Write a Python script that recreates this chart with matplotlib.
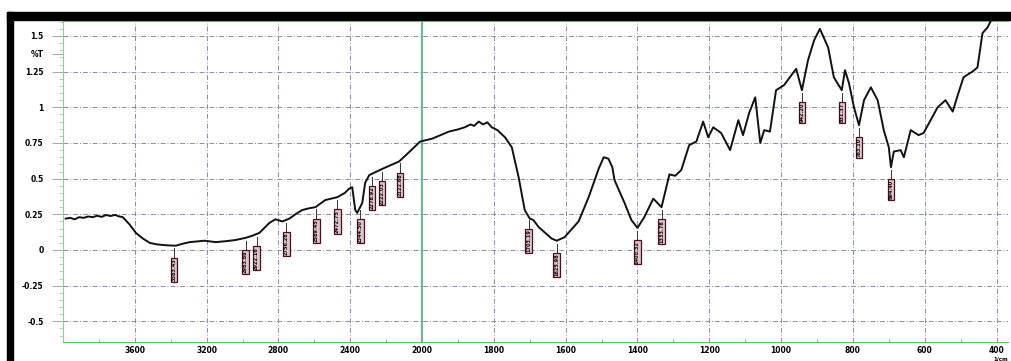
import numpy as np
import matplotlib
matplotlib.use("Agg")
import matplotlib.pyplot as plt
from matplotlib.patches import Rectangle

# FTIR spectrum, wavenumber (1/cm) vs %T
wn = [3985, 3960, 3935, 3910, 3885, 3860, 3835, 3810, 3785, 3760, 3735, 3710,
      3690, 3667, 3630, 3594, 3555, 3517, 3480, 3444, 3410, 3372, 3330, 3294,
      3250, 3211, 3150, 3090, 3039, 2983, 2945, 2906, 2850, 2817, 2778, 2739,
      2700, 2667, 2630, 2594, 2539, 2472, 2430, 2406, 2389, 2372, 2361, 2333,
      2317, 2294, 2210, 2128, 2060, 2011, 1972, 1925, 1900, 1881, 1865, 1855,
      1842, 1830, 1818, 1806, 1790, 1769, 1750, 1731, 1714, 1700, 1690, 1675,
      1639, 1625, 1603, 1564, 1536, 1508, 1494, 1481, 1470, 1464, 1436, 1417,
      1400, 1381, 1356, 1333, 1311, 1295, 1278, 1256, 1236, 1217, 1203, 1189,
      1167, 1142, 1119, 1106, 1089, 1072, 1058, 1047, 1031, 1014, 992, 958,
      942, 925, 908, 892, 869, 853, 831, 822, 811, 797, 783, 769, 750, 731,
      714, 700, 694, 686, 667, 658, 639, 617, 603, 564, 542, 522, 508, 492,
      480, 467, 453, 439, 425, 417]
trans = [0.220, 0.225, 0.215, 0.230, 0.225, 0.235, 0.230, 0.240, 0.232, 0.245,
         0.238, 0.246, 0.236, 0.230, 0.180, 0.120, 0.080, 0.050, 0.040, 0.035,
         0.032, 0.030, 0.045, 0.055, 0.060, 0.065, 0.055, 0.062, 0.070, 0.085,
         0.100, 0.120, 0.190, 0.215, 0.200, 0.220, 0.255, 0.280, 0.292, 0.300,
         0.350, 0.370, 0.400, 0.430, 0.440, 0.280, 0.260, 0.330, 0.470, 0.525,
         0.575, 0.620, 0.700, 0.760, 0.780, 0.830, 0.845, 0.860, 0.880, 0.870,
         0.900, 0.880, 0.895, 0.860, 0.840, 0.790, 0.720, 0.510, 0.280, 0.220,
         0.210, 0.160, 0.080, 0.065, 0.090, 0.200, 0.370, 0.570, 0.650, 0.640,
         0.580, 0.490, 0.330, 0.210, 0.155, 0.230, 0.360, 0.300, 0.530, 0.520,
         0.560, 0.735, 0.760, 0.900, 0.790, 0.860, 0.820, 0.700, 0.910, 0.805,
         0.960, 1.070, 0.750, 0.840, 0.830, 1.120, 1.155, 1.270, 1.120, 1.330,
         1.470, 1.550, 1.420, 1.210, 1.120, 1.260, 1.170, 1.000, 0.875, 1.050,
         1.140, 1.050, 0.840, 0.720, 0.580, 0.690, 0.700, 0.650, 0.840, 0.805,
         0.820, 1.000, 1.050, 0.970, 1.085, 1.210, 1.230, 1.250, 1.280, 1.520,
         1.560, 1.600]

# marked peaks
peak_wn = [3383, 2983, 2922, 2756, 2589, 2472, 2344, 2278, 2222, 2122,
           1703, 1625, 1400, 1333, 942, 831, 783, 694]
peak_lbl = ["3383.43", "2983.88", "2922.16", "2756.28", "2589.45", "2472.75",
            "2344.50", "2278.92", "2222.03", "2122.68", "1703.19", "1625.98",
            "1400.32", "1333.78", "942.20", "831.37", "783.10", "694.40"]

yticks = [1.5, 1.375, 1.25, 1, 0.75, 0.5, 0.25, 0, -0.25, -0.5]
ylabels = ["1.5", "%T", "1.25", "1", "0.75", "0.5", "0.25", "0", "-0.25", "-0.5"]
xticks = [3600, 3200, 2800, 2400, 2000, 1800, 1600, 1400, 1200, 1000, 800, 600, 400]


def fwd(w):
    w = np.asarray(w, dtype=float)
    return np.where(w > 2000, 2000 + (w - 2000) / 2.0, w)


def inv(u):
    u = np.asarray(u, dtype=float)
    return np.where(u > 2000, 2000 + (u - 2000) * 2.0, u)


fig = plt.figure(figsize=(10.11, 3.61), dpi=100)
fig.patch.set_facecolor("white")
# black frame bits of the scan
fig.patches.append(Rectangle((7 / 1011, 0), 6 / 1011, 349 / 361, transform=fig.transFigure,
                             color="black", zorder=0))
fig.patches.append(Rectangle((7 / 1011, 341 / 361), 1004 / 1011, 8 / 361,
                             transform=fig.transFigure, color="black", zorder=0))

ax = fig.add_axes([63 / 1011, 19 / 361, 945 / 1011, 321 / 361])
ax.set_xscale("function", functions=(fwd, inv))
ax.set_xlim(4000, 368)
ax.set_ylim(-0.645, 1.605)

# grid
for xv in xticks:
    if xv == 2000:
        ax.axvline(xv, color="#3cb878", lw=1.2, zorder=1)
    else:
        ax.axvline(xv, color="#8a8ab8", lw=0.7, ls=(0, (5, 2, 1, 2)), zorder=1)
for yv in [1.5, 1.25, 1, 0.75, 0.5, 0.25, 0, -0.25, -0.5]:
    ax.axhline(yv, color="#8c8ca8", lw=0.7, ls=(0, (5, 2, 1, 2)), zorder=1)

ax.plot(wn, trans, color="#111111", lw=1.4, zorder=3)

# peak markers
curve = np.interp(peak_wn, wn[::-1], trans[::-1])
for w, c, s in zip(peak_wn, curve, peak_lbl):
    ax.plot([w, w], [c - 0.02, c - 0.09], color="#333333", lw=0.7, zorder=3)
    ax.text(w, c - 0.09, s, rotation=90, ha="center", va="top", fontsize=3.6,
            fontweight="bold", color="#1a0508", zorder=4,
            bbox=dict(boxstyle="square,pad=0.15", fc="#d9c6ca", ec="#4a1020", lw=0.9))

ax.set_xticks(xticks)
ax.set_xticklabels([str(x) for x in xticks], fontsize=5.5, fontweight="bold")
ax.set_yticks(yticks)
ax.set_yticklabels(ylabels, fontsize=5.5, fontweight="bold")
ax.yaxis.set_minor_locator(matplotlib.ticker.MultipleLocator(0.05))
ax.tick_params(axis="y", which="major", length=8, color="#9a9a9a", width=0.6, pad=6)
ax.tick_params(axis="y", which="minor", length=3, color="#b0b0b0", width=0.5)
ax.tick_params(axis="x", which="major", length=3, direction="in", color="#9a9a9a", pad=3)
ax.set_xticks([3800, 3400, 3000, 2600, 2200, 1900, 1700, 1500, 1300, 1100, 900, 700, 500],
              minor=True)
ax.tick_params(axis="x", which="minor", length=2, direction="in", color="#9a9a9a")

for side in ["left", "top", "bottom"]:
    ax.spines[side].set_color("#8fd08f")
    ax.spines[side].set_linewidth(0.8)
ax.spines["bottom"].set_color("#5cbf6c")
ax.spines["right"].set_visible(False)

ax.text(1.0, -0.045, "1/cm", transform=ax.transAxes, fontsize=4, fontweight="bold",
        ha="right", va="top")

fig.savefig("out.png", dpi=100)
